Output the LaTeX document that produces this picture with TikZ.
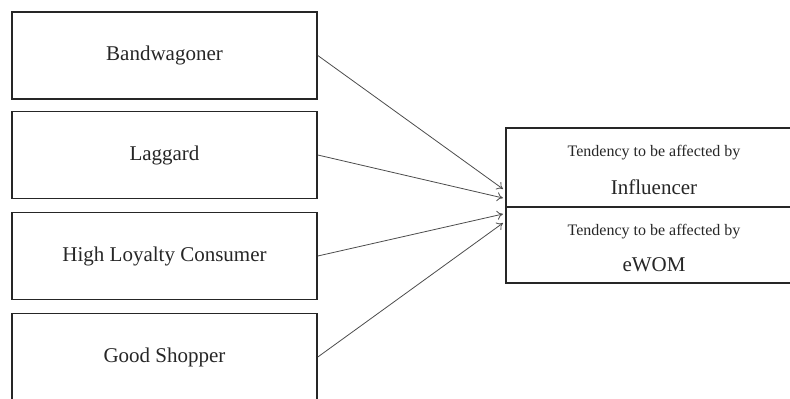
\documentclass[tikz,border=0pt]{standalone}
\usepackage{fontspec}
\setmainfont{Liberation Serif}
\usetikzlibrary{arrows.meta}
\begin{document}
\begin{tikzpicture}[x=1pt,y=-1pt,
  leftbox/.style={draw=black!85,line width=1.6pt,rectangle,minimum width=305pt,minimum height=87pt,inner sep=0pt,font=\fontsize{21}{24}\selectfont,text=black!85},
  rightbox/.style={draw=black!85,line width=1.4pt,rectangle,minimum width=289pt,inner sep=0pt},
  small/.style={font=\fontsize{16}{18}\selectfont,text=black!85},
  big/.style={font=\fontsize{21}{24}\selectfont,text=black!85},
  conn/.style={draw=black!70,line width=0.8pt,-{To[length=6pt,width=9pt]}}
]
\useasboundingbox (0,0) rectangle (790,399);
\node[leftbox] (b1) at (164.5,55.5) {Bandwagoner};
\node[leftbox] (b2) at (164.5,155) {Laggard};
\node[leftbox] (b3) at (164.5,256) {High Loyalty Consumer};
\node[leftbox] (b4) at (164.5,357) {Good Shopper};
\node[rightbox,minimum height=79pt] (inf) at (650.5,167.5) {};
\node[rightbox,minimum height=76pt] (ewom) at (650.5,245) {};
\node[small] (inft) at (654,153) {Tendency to be affected by};
\node[big] (infl) at (654,187) {Influencer};
\node[small] (ewt) at (654,232) {Tendency to be affected by};
\node[big] (ewl) at (654,265) {eWOM};
\coordinate (t1) at (503,189);
\coordinate (t2) at (503,198);
\coordinate (t3) at (503,214);
\coordinate (t4) at (503,223);
\draw[conn] (b1.east) -- (t1);
\draw[conn] (b2.east) -- (t2);
\draw[conn] (b3.east) -- (t3);
\draw[conn] (b4.east) -- (t4);
\end{tikzpicture}
\end{document}
